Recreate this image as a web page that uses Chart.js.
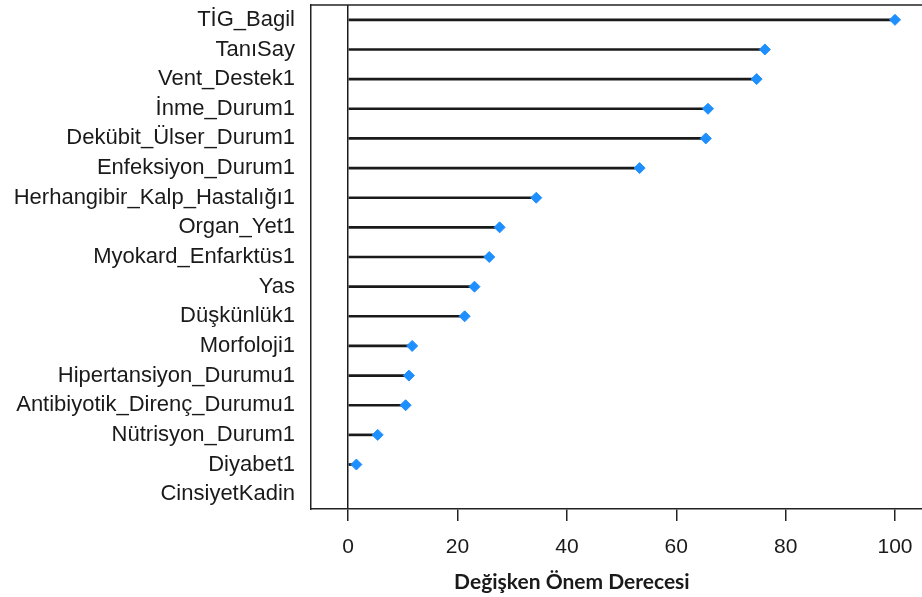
<!DOCTYPE html>
<html>
<head>
<meta charset="utf-8">
<script src="https://cdn.jsdelivr.net/npm/chart.js@4/dist/chart.umd.min.js"></script>
<style>
  html, body { margin: 0; padding: 0; background: #fff; }
  #wrap { width: 922px; height: 597px; }
</style>
</head>
<body>
<div id="wrap"><canvas id="c" width="922" height="597"></canvas></div>
<script>
const categories = [
  "TİG_Bagil", "TanıSay", "Vent_Destek1", "İnme_Durum1", "Dekübit_Ülser_Durum1",
  "Enfeksiyon_Durum1", "Herhangibir_Kalp_Hastalığı1", "Organ_Yet1", "Myokard_Enfarktüs1",
  "Yas", "Düşkünlük1", "Morfoloji1", "Hipertansiyon_Durumu1", "Antibiyotik_Direnç_Durumu1",
  "Nütrisyon_Durum1", "Diyabet1", "CinsiyetKadin"
];
const importance = [
  100, 76.2, 74.7, 65.8, 65.4,
  53.3, 34.4, 27.7, 25.8,
  23.1, 21.3, 11.7, 11.1, 10.5,
  5.4, 1.5, null
];
const xTicks = [0, 20, 40, 60, 80, 100];
const xTitle = "Değişken Önem Derecesi";

const boxPlugin = {
  id: 'boxTop',
  afterDraw(chart) {
    const a = chart.chartArea, ctx = chart.ctx;
    ctx.save();
    ctx.strokeStyle = '#222';
    ctx.lineWidth = 1.5;
    ctx.beginPath();
    ctx.moveTo(a.left, a.top);
    ctx.lineTo(a.right, a.top);
    ctx.stroke();
    // axis title (centred as in the reference, left of the plot centre)
    ctx.fillStyle = '#1a1a1a';
    ctx.font = "bold 21px Lato, 'Open Sans', sans-serif";
    ctx.textAlign = 'center';
    ctx.textBaseline = 'middle';
    const cx = a.left + (a.right - a.left) * 0.427;
    ctx.fillText(xTitle, cx, chart.height - 15);
    ctx.restore();
  }
};

new Chart(document.getElementById('c'), {
  type: 'bar',
  data: {
    labels: categories,
    datasets: [
      {
        type: 'line',
        data: importance,
        showLine: false,
        pointStyle: 'rectRot',
        pointRadius: 5.5,
        pointHoverRadius: 5.5,
        pointBackgroundColor: '#1E8FFF',
        pointBorderColor: '#1E8FFF',
        pointBorderWidth: 1,
        order: 0
      },
      {
        type: 'bar',
        data: importance,
        backgroundColor: '#1a1a1a',
        barThickness: 2,
        order: 1
      }
    ]
  },
  plugins: [boxPlugin],
  options: {
    indexAxis: 'y',
    responsive: false,
    animation: false,
    devicePixelRatio: 1,
    layout: { autoPadding: false, padding: { top: 5, right: 0, bottom: 0, left: 0 } },
    plugins: { legend: { display: false }, tooltip: { enabled: false } },
    scales: {
      x: {
        type: 'linear',
        min: -6.8,
        max: 104.94,
        afterFit(scale) {
          scale.height = 88;
          scale.paddingLeft = 0; scale.paddingRight = 0;
        },
        afterBuildTicks(scale) { scale.ticks = xTicks.map(v => ({ value: v })); },
        ticks: {
          includeBounds: false,
          padding: 14,
          color: '#1a1a1a',
          font: { family: "'Liberation Sans', Arial, sans-serif", size: 21 }
        },
        grid: {
          color: ctx => (ctx.tick && ctx.tick.value === 0) ? '#1a1a1a' : 'rgba(0,0,0,0)',
          lineWidth: 1.5,
          tickColor: '#222',
          tickLength: 12,
          tickWidth: 1.5,
          drawTicks: true
        },
        border: { display: true, color: '#222', width: 1.5 },
        title: { display: false }
      },
      y: {
        type: 'category',
        offset: true,
        afterFit(scale) {
          scale.width = 311;
          scale.paddingTop = 0; scale.paddingBottom = 0;
        },
        ticks: {
          padding: 16,
          color: '#1a1a1a',
          font: { family: "'Liberation Sans', Arial, sans-serif", size: 22 },
          autoSkip: false
        },
        grid: { display: false, drawTicks: false },
        border: { display: true, color: '#222', width: 1.5 }
      }
    }
  }
});
</script>
</body>
</html>
